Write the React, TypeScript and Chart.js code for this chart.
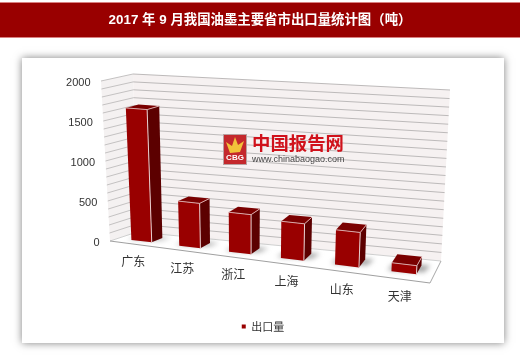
import React, { useEffect, useRef } from "react";
import { Chart, registerables } from "chart.js";

Chart.register(...registerables);

const titleText = "2017 年 9 月我国油墨主要省市出口量统计图（吨）";
const seriesName = "出口量";
const categories = ["广东", "江苏", "浙江", "上海", "山东", "天津"];
const exportValues = [1650, 550, 480, 440, 410, 100];

type P = [number, number];
// Corners of the box the bars stand in: f/b = front/back, l/r = left/right, 0/1 = floor/top
const box: Record<string, P> = {
  fl0: [110, 241], fr0: [430, 283], bl0: [137, 232], br0: [441, 261],
  fl1: [101, 81], fr1: [441, 108], bl1: [133, 74], br1: [450, 90],
};
const FONT = '"Liberation Sans","Noto Sans CJK SC",sans-serif';
const PERSPECTIVE = 0.883;
const warp = (u: number) => (PERSPECTIVE * u) / (1 + (PERSPECTIVE - 1) * u);
const lerp = (a: P, b: P, t: number): P => [a[0] + (b[0] - a[0]) * t, a[1] + (b[1] - a[1]) * t];
function proj(u0: number, v: number, w: number): P {
  const u = warp(u0);
  const f0 = lerp(box.fl0, box.fr0, u), b0 = lerp(box.bl0, box.br0, u);
  const f1 = lerp(box.fl1, box.fr1, u), b1 = lerp(box.bl1, box.br1, u);
  return lerp(lerp(f0, b0, w), lerp(f1, b1, w), v);
}
function poly(ctx: CanvasRenderingContext2D, pts: P[], fill?: string, stroke?: string, lw = 1) {
  ctx.beginPath();
  pts.forEach((p, i) => (i ? ctx.lineTo(p[0], p[1]) : ctx.moveTo(p[0], p[1])));
  ctx.closePath();
  if (fill) { ctx.fillStyle = fill; ctx.fill(); }
  if (stroke) { ctx.strokeStyle = stroke; ctx.lineWidth = lw; ctx.stroke(); }
}
function line(ctx: CanvasRenderingContext2D, a: P, b: P, color: string, lw = 1) {
  ctx.beginPath(); ctx.moveTo(a[0], a[1]); ctx.lineTo(b[0], b[1]);
  ctx.strokeStyle = color; ctx.lineWidth = lw; ctx.stroke();
}

const frame3d = {
  id: "frame3d",
  afterLayout(chart: any) {
    if (chart.legend) { chart.legend.left += 3; chart.legend.right += 3; }
  },
  beforeDraw(chart: any) {
    const ctx: CanvasRenderingContext2D = chart.ctx;
    ctx.save();
    ctx.fillStyle = "#fff"; ctx.fillRect(0, 0, 520, 358);
    // header band
    ctx.fillStyle = "#d98080"; ctx.fillRect(0, 2, 520, 36);
    ctx.fillStyle = "#990000"; ctx.fillRect(0, 3, 520, 34);
    // card
    ctx.shadowColor = "rgba(0,0,0,0.5)"; ctx.shadowBlur = 8; ctx.shadowOffsetX = 0; ctx.shadowOffsetY = 0;
    ctx.fillStyle = "#fff"; ctx.fillRect(22, 58, 482, 285);
    ctx.restore();
  },
  beforeDatasetsDraw(chart: any) {
    const ctx: CanvasRenderingContext2D = chart.ctx;
    const y = chart.scales.y, x = chart.scales.x;
    const vOf = (val: number) => (y.bottom - y.getPixelForValue(val)) / (y.bottom - y.top);
    ctx.save();
    // walls and floor
    poly(ctx, [box.fl1, box.bl1, box.bl0, box.fl0], "#f4f1f1");
    poly(ctx, [box.bl1, box.br1, box.br0, box.bl0], "#f6f1f1");
    poly(ctx, [box.fl0, box.fr0, box.br0, box.bl0], "#ffffff");
    // gridlines from the value scale
    y.ticks.forEach((t: any) => {
      const v = vOf(t.value);
      if (v > 0) {
        line(ctx, proj(0, v, 0), proj(0, v, 1), "#c4c2c2");
        line(ctx, proj(0, v, 1), proj(1, v, 1), "#bdbaba");
      }
    });
    // floor edges
    line(ctx, box.fl0, box.bl0, "#d0d0d0");
    line(ctx, box.bl0, box.br0, "#d0d0d0");
    line(ctx, box.br0, box.fr0, "#a8a8a8");
    line(ctx, box.fl0, box.fr0, "#a0a0a0");
    // axis labels
    ctx.fillStyle = "#333"; ctx.font = `11px ${FONT}`; ctx.textAlign = "right"; ctx.textBaseline = "middle";
    y.ticks.forEach((t: any) => {
      if (t.label === "") return;
      const p = proj(0, vOf(t.value), 0);
      ctx.fillText(String(t.label), p[0] - 10.5, p[1] + 2);
    });
    ctx.textAlign = "center"; ctx.font = `12px "Noto Sans CJK SC",${FONT}`;
    x.ticks.forEach((t: any, i: number) => {
      const u = (x.getPixelForTick(i) - x.left) / (x.right - x.left);
      const p = proj(u, 0, 0);
      ctx.fillText(String(t.label), p[0] - 0.5, p[1] + 17.5);
    });
    // watermark
    ctx.fillStyle = "#c4282c"; ctx.fillRect(223, 134, 24, 31);
    ctx.strokeStyle = "#b9a0a0"; ctx.strokeRect(223.5, 134.5, 23, 30);
    poly(ctx, [[226, 142], [232, 146], [235, 137], [238, 145], [244, 141], [240, 152], [230, 153]], "#f2c23a");
    ctx.fillStyle = "#fff"; ctx.font = `bold 8px ${FONT}`; ctx.textAlign = "center";
    ctx.fillText("CBG", 235, 158);
    ctx.fillStyle = "#d0121b"; ctx.font = `bold 18.4px "Noto Sans CJK SC",sans-serif`; ctx.textAlign = "left";
    ctx.fillText("中国报告网", 252, 143);
    ctx.fillStyle = "#444"; ctx.font = `9px ${FONT}`;
    ctx.fillText("www.chinabaogao.com", 252, 160);
    ctx.restore();
  },
  beforeDatasetDraw(chart: any, args: any) {
    const ctx: CanvasRenderingContext2D = chart.ctx;
    const y = chart.scales.y, x = chart.scales.x;
    const meta = chart.getDatasetMeta(args.index);
    const W0 = 0.3, W1 = 0.72;
    ctx.save();
    meta.data.forEach((bar: any) => {
      const uL = (bar.x - bar.width / 2 - x.left) / (x.right - x.left);
      const uR = (bar.x + bar.width / 2 - x.left) / (x.right - x.left);
      const v = (y.bottom - bar.y) / (y.bottom - y.top);
      // soft floor shadow around the foot of the bar
      const s0 = proj(uL, 0, W0), s1 = proj(uR, 0, W0), s2 = proj(uR, 0, W1), s3 = proj(uL, 0, W1);
      ctx.save();
      ctx.filter = "blur(2.5px)";
      poly(ctx, [[s0[0] - 4, s0[1] - 1], [s1[0] + 8, s1[1] - 2], [s2[0] + 9, s2[1]], [s3[0] - 3, s3[1]]], "rgba(105,105,105,0.6)");
      ctx.restore();
      const a = proj(uL, 0, W0), b = proj(uR, 0, W0), c = proj(uR, v, W0), d = proj(uL, v, W0);
      const e = proj(uR, 0, W1), f = proj(uR, v, W1), h = proj(uL, v, W1);
      poly(ctx, [b, e, f, c], "#5c0000");
      poly(ctx, [d, c, f, h], "#7a0000");
      poly(ctx, [a, b, c, d], "#990000");
      line(ctx, d, c, "#d9a8a8");
      line(ctx, c, b, "#e8d0d0", 1);
      line(ctx, c, f, "#d9a8a8");
    });
    ctx.restore();
    return false;
  },
};

export default function App() {
  const ref = useRef<HTMLCanvasElement>(null);
  useEffect(() => {
    const chart = new Chart(ref.current!, {
      type: "bar",
      plugins: [frame3d],
      data: {
        labels: categories,
        datasets: [{
          label: seriesName,
          data: exportValues,
          backgroundColor: "#990000",
          categoryPercentage: 1,
          barPercentage: 0.43,
        }],
      },
      options: {
        responsive: false,
        animation: false,
        layout: { padding: { top: 0, bottom: 16 } },
        plugins: {
          tooltip: { enabled: false },
          title: {
            display: true,
            text: titleText,
            color: "#fff",
            font: { family: FONT, size: 13.4, weight: "bold" },
            padding: { top: 12, bottom: 12 },
          },
          legend: {
            position: "bottom",
            labels: {
              color: "#333",
              boxWidth: 4,
              boxHeight: 4,
              padding: 6,
              font: { family: '"Noto Sans CJK SC",sans-serif', size: 11 },
            },
          },
        },
        scales: {
          x: { ticks: { display: false }, grid: { display: false }, border: { display: false } },
          y: {
            min: 0,
            max: 2000,
            grid: { display: false },
            border: { display: false },
            ticks: {
              display: false,
              stepSize: 100,
              callback: (v: any) => (Number(v) % 500 === 0 ? String(v) : ""),
            },
          },
        },
      } as any,
    });
    return () => chart.destroy();
  }, []);
  return (
    <div style={{ position: "absolute", left: 0, top: 0 }}>
      <canvas ref={ref} width={520} height={358} style={{ display: "block" }} />
    </div>
  );
}
